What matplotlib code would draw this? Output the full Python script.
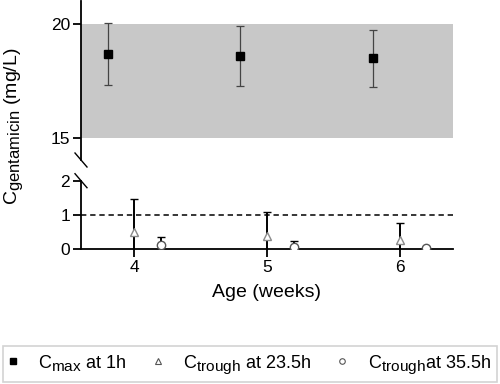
import matplotlib
matplotlib.use("Agg")
import matplotlib.pyplot as plt
from matplotlib.lines import Line2D
import matplotlib._mathtext as _mt
import numpy as np

_mt.SHRINK_FACTOR = 0.85

plt.rcParams['font.family'] = ['Liberation Sans', 'DejaVu Sans']
plt.rcParams['mathtext.fontset'] = 'custom'
plt.rcParams['mathtext.rm'] = 'Liberation Sans'
plt.rcParams['mathtext.it'] = 'Liberation Sans:italic'
plt.rcParams['mathtext.bf'] = 'Liberation Sans:bold'
plt.rcParams['mathtext.default'] = 'regular'

# ---- data ----
weeks = [4, 5, 6]
cmax_mean = [18.7, 18.6, 18.5]
cmax_sd = [1.35, 1.30, 1.25]
trough23_mean = [0.51, 0.39, 0.27]
trough23_sd = [0.97, 0.69, 0.49]
trough35_mean = [0.13, 0.08, 0.05]
trough35_sd = [0.24, 0.15, 0.02]
target_range = [15, 20]
toxic_limit = 1
labels = [r'$C_{max}$ at 1h', r'$C_{trough}$ at 23.5h', r'$C_{trough}$at 35.5h']

W, H = 500, 384
fig = plt.figure(figsize=(W / 100, H / 100), dpi=100)

left_px, right_px = 81, 453
ax_top = fig.add_axes([left_px / W, 1 - 160 / H, (right_px - left_px) / W, 159 / H])
ax_bot = fig.add_axes([left_px / W, 1 - 249.3 / H, (right_px - left_px) / W, 68.6 / H])

x = np.array(weeks, dtype=float)
off = 0.2

# top panel
ax_top.axhspan(target_range[0], target_range[1], color='#c8c8c8', lw=0, zorder=0)
ax_top.errorbar(x - off, cmax_mean, yerr=cmax_sd, fmt='s', color='black', ms=6,
                ecolor='#444444', elinewidth=0.9, capsize=3, capthick=0.9, zorder=3)
ax_top.set_xlim(3.6, 6.4)
ax_top.set_ylim(14.05, 21.0)
ax_top.set_yticks([15, 20])
for s in ['top', 'right', 'bottom']:
    ax_top.spines[s].set_visible(False)
ax_top.tick_params(axis='x', bottom=False, labelbottom=False)

# bottom panel
ax_bot.axhline(toxic_limit, color='black', lw=1.1, ls=(0, (3.5, 2.5)), zorder=1)
ax_bot.errorbar(x, trough23_mean, yerr=trough23_sd, fmt='^', mfc='white', mec='#8a8a8a',
                mew=1.0, ms=6, ecolor='black', elinewidth=1.4, capsize=3, capthick=1.4, zorder=3)
ax_bot.errorbar(x + off, trough35_mean, yerr=trough35_sd, fmt='o', mfc='white', mec='#555555',
                mew=1.0, ms=6, ecolor='black', elinewidth=1.4, capsize=3, capthick=1.4, zorder=3)
ax_bot.set_xlim(3.6, 6.4)
ax_bot.set_ylim(0, 2)
ax_bot.set_yticks([0, 1, 2])
ax_bot.set_xticks(weeks)
for s in ['top', 'right']:
    ax_bot.spines[s].set_visible(False)

for ax in (ax_top, ax_bot):
    for s in ax.spines.values():
        s.set_linewidth(1.3)
    ax.tick_params(width=1.3, length=6, labelsize=12.5, pad=2)
    ax.patch.set_visible(False)

ax_bot.set_xlabel('Age (weeks)', fontsize=14, labelpad=6)

# break marks
def slash(ax, yfrac):
    bb = ax.get_position()
    cx = bb.x0
    cy = bb.y0 + yfrac * bb.height
    dx, dy = 6 / W, 7 / H
    fig.add_artist(Line2D([cx - dx, cx + dx], [cy + dy, cy - dy], color='black', lw=1.0,
                          transform=fig.transFigure))

slash(ax_top, 0.0)
slash(ax_bot, 1.0)

fig.text(2 / W, 1 - 126 / H, r'$C_{gentamicin}$ (mg/L)', rotation=90, ha='left', va='center',
         fontsize=14)

handles = [
    Line2D([], [], ls='none', marker='s', color='black', ms=4),
    Line2D([], [], ls='none', marker='^', mfc='white', mec='#555555', mew=0.8, ms=4),
    Line2D([], [], ls='none', marker='o', mfc='white', mec='#555555', mew=0.8, ms=4),
]
leg = fig.legend(handles, labels, ncol=3, mode='expand', fontsize=13,
                 bbox_to_anchor=(3 / W, 2 / H, 494 / W, 40 / H), loc='lower left',
                 frameon=True, fancybox=False, edgecolor='#c8c8c8', borderaxespad=0,
                 handlelength=0.4, handletextpad=1.2, borderpad=0.35)
leg.get_frame().set_linewidth(1.2)

fig.savefig('out.png', dpi=100)
